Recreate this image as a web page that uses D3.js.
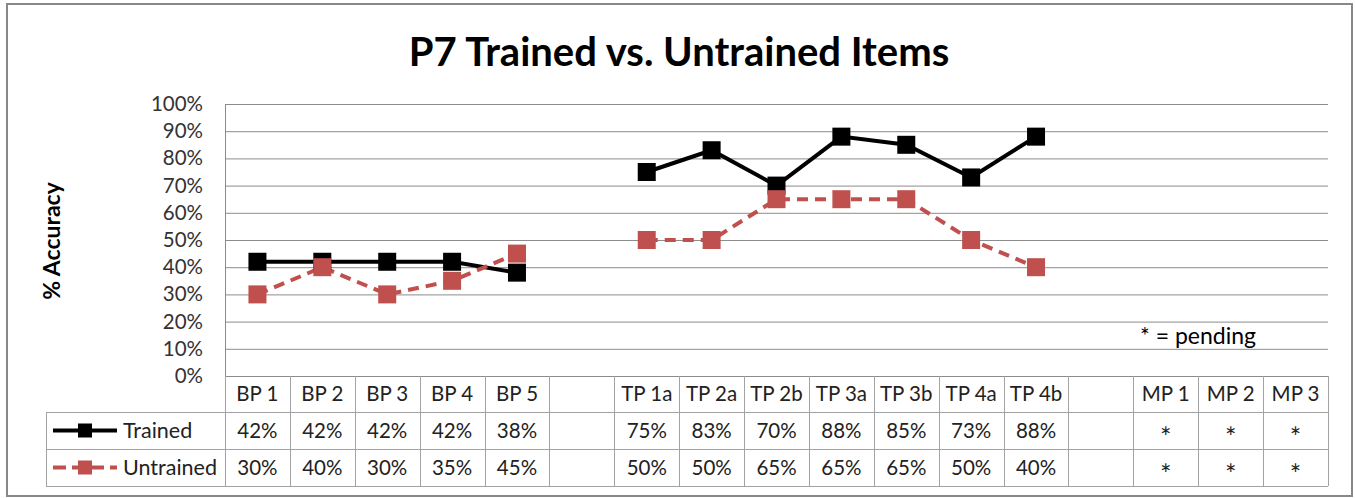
<!DOCTYPE html>
<html>
<head>
<meta charset="utf-8">
<script src="https://cdn.jsdelivr.net/npm/d3@7"></script>
<style>
  body { margin: 0; background: #fff; }
  text { font-family: Lato, "Open Sans", sans-serif; }
</style>
</head>
<body>
<div id="chart"></div>
<script>
// data
var categories = ['BP 1', 'BP 2', 'BP 3', 'BP 4', 'BP 5', '',
  'TP 1a', 'TP 2a', 'TP 2b', 'TP 3a', 'TP 3b', 'TP 4a', 'TP 4b', '',
  'MP 1', 'MP 2', 'MP 3'];
var trained = [0.42, 0.42, 0.42, 0.42, 0.38, null,
  0.75, 0.83, 0.70, 0.88, 0.85, 0.73, 0.88, null,
  null, null, null];
var untrained = [0.30, 0.40, 0.30, 0.35, 0.45, null,
  0.50, 0.50, 0.65, 0.65, 0.65, 0.50, 0.40, null,
  null, null, null];
var pending = ['MP 1', 'MP 2', 'MP 3'];
var yTicks = [0, 0.1, 0.2, 0.3, 0.4, 0.5, 0.6, 0.7, 0.8, 0.9, 1.0];

var width = 1355;
var height = 498;
var plot = { left: 225, right: 1328, top: 104, bottom: 376 };
var rowH = [36, 37, 37]; // header row, trained row, untrained row
var legendLeft = 46;

var gridColor = '#8c8c8c';
var tableColor = '#a3a3a3';
var red = '#c0504d';
var fontSize = '20.5px';

var svg = d3.select('#chart').append('svg')
  .attr('width', width)
  .attr('height', height);

// chart frame
svg.append('rect')
  .attr('x', 7)
  .attr('y', 4)
  .attr('width', 1345)
  .attr('height', 492)
  .attr('fill', '#fff')
  .attr('stroke', '#888')
  .attr('stroke-width', 2);

// title
svg.append('text')
  .attr('x', 679)
  .attr('y', 66)
  .attr('text-anchor', 'middle')
  .style('font-weight', 'bold')
  .style('font-size', '40px')
  .attr('fill', '#000')
  .text('P7 Trained vs. Untrained Items');

// scales
var xScale = d3.scaleBand()
  .domain(d3.range(categories.length))
  .range([plot.left, plot.right])
  .padding(0);

var yScale = d3.scaleLinear()
  .domain([0, 1])
  .range([plot.bottom, plot.top]);

// y axis + gridlines
var yAxis = d3.axisLeft(yScale)
  .tickValues(yTicks)
  .tickFormat(d3.format('.0%'))
  .tickSize(-(plot.right - plot.left))
  .tickPadding(22);

var yG = svg.append('g')
  .attr('transform', 'translate(' + plot.left + ',0)')
  .call(yAxis);

yG.select('.domain').attr('stroke', gridColor);
yG.selectAll('.tick line').attr('stroke', gridColor);
yG.selectAll('.tick text')
  .attr('fill', '#333')
  .style('font-size', fontSize)
  .style('font-family', 'Lato, sans-serif');

// y axis label
svg.append('text')
  .attr('transform', 'translate(60,' + 241 + ') rotate(-90)')
  .attr('text-anchor', 'middle')
  .style('font-weight', 'bold')
  .style('font-size', '23px')
  .attr('fill', '#000')
  .text('% Accuracy');

// pending note
svg.append('text')
  .attr('x', 1140)
  .attr('y', 344)
  .style('font-size', '23px')
  .attr('fill', '#000')
  .text('* = pending');

// lines
var line = d3.line()
  .defined(function(d) { return d != null; })
  .x(function(d, i) { return xScale(i) + xScale.bandwidth() / 2; })
  .y(function(d) { return yScale(d); });

var series = [
  { name: 'Trained', values: trained, color: '#000', dash: null },
  { name: 'Untrained', values: untrained, color: red, dash: '11,7' }
];

series.forEach(function(s) {
  svg.append('path')
    .datum(s.values)
    .attr('d', line)
    .attr('fill', 'none')
    .attr('stroke', s.color)
    .attr('stroke-width', 4)
    .attr('stroke-dasharray', s.dash);
});

var markerSize = 18;
series.forEach(function(s) {
  svg.append('g').selectAll('rect')
    .data(s.values.map(function(v, i) { return { v: v, i: i }; })
      .filter(function(d) { return d.v != null; }))
    .enter()
    .append('rect')
    .attr('x', function(d) { return xScale(d.i) + xScale.bandwidth() / 2 - markerSize / 2; })
    .attr('y', function(d) { return yScale(d.v) - markerSize / 2; })
    .attr('width', markerSize)
    .attr('height', markerSize)
    .attr('fill', s.color);
});

// data table
var tableTop = plot.bottom;
var rowTops = [tableTop, tableTop + rowH[0], tableTop + rowH[0] + rowH[1]];
var tableBottom = rowTops[2] + rowH[2];

var table = svg.append('g');

// horizontal rules
table.append('line')
  .attr('x1', plot.left).attr('x2', plot.right)
  .attr('y1', tableTop + 0.5).attr('y2', tableTop + 0.5)
  .attr('stroke', gridColor);
[rowTops[1], rowTops[2], tableBottom].forEach(function(y) {
  table.append('line')
    .attr('x1', legendLeft).attr('x2', plot.right)
    .attr('y1', y + 0.5).attr('y2', y + 0.5)
    .attr('stroke', tableColor);
});

// vertical rules
var colEdges = d3.range(categories.length + 1).map(function(i) {
  return i < categories.length ? xScale(i) : plot.right;
});
colEdges.forEach(function(x) {
  table.append('line')
    .attr('x1', Math.round(x) + 0.5).attr('x2', Math.round(x) + 0.5)
    .attr('y1', tableTop).attr('y2', tableBottom)
    .attr('stroke', tableColor);
});
table.append('line')
  .attr('x1', legendLeft + 0.5).attr('x2', legendLeft + 0.5)
  .attr('y1', rowTops[1]).attr('y2', tableBottom)
  .attr('stroke', tableColor);

// category labels
table.selectAll('.cat')
  .data(categories)
  .enter()
  .append('text')
  .attr('class', 'cat')
  .attr('x', function(d, i) { return xScale(i) + xScale.bandwidth() / 2; })
  .attr('y', rowTops[0] + rowH[0] / 2)
  .attr('dy', '0.35em')
  .attr('text-anchor', 'middle')
  .style('font-size', fontSize)
  .attr('fill', '#222')
  .text(function(d) { return d; });

// value rows
var pct = d3.format('.0%');
series.forEach(function(s, r) {
  var top = rowTops[r + 1];
  var cy = top + rowH[r + 1] / 2;

  table.append('g').selectAll('text')
    .data(s.values)
    .enter()
    .append('text')
    .attr('x', function(d, i) { return xScale(i) + xScale.bandwidth() / 2; })
    .attr('y', cy)
    .attr('dy', function(d) { return d != null ? '0.35em' : '0.6em'; })
    .attr('text-anchor', 'middle')
    .style('font-size', function(d) { return d != null ? fontSize : '27px'; })
    .attr('fill', '#222')
    .text(function(d, i) {
      if (d != null) return pct(d);
      return pending.indexOf(categories[i]) >= 0 ? '*' : '';
    });

  // legend key
  table.append('line')
    .attr('x1', 53).attr('x2', 117)
    .attr('y1', cy).attr('y2', cy)
    .attr('stroke', s.color)
    .attr('stroke-width', 4)
    .attr('stroke-dasharray', s.dash ? '13,6' : null);
  table.append('rect')
    .attr('x', 85 - 7).attr('y', cy - 7)
    .attr('width', 14).attr('height', 14)
    .attr('fill', s.color);
  table.append('text')
    .attr('x', 123)
    .attr('y', cy)
    .attr('dy', '0.35em')
    .style('font-size', '21.5px')
    .attr('fill', '#222')
    .text(s.name);
});
</script>
</body>
</html>
